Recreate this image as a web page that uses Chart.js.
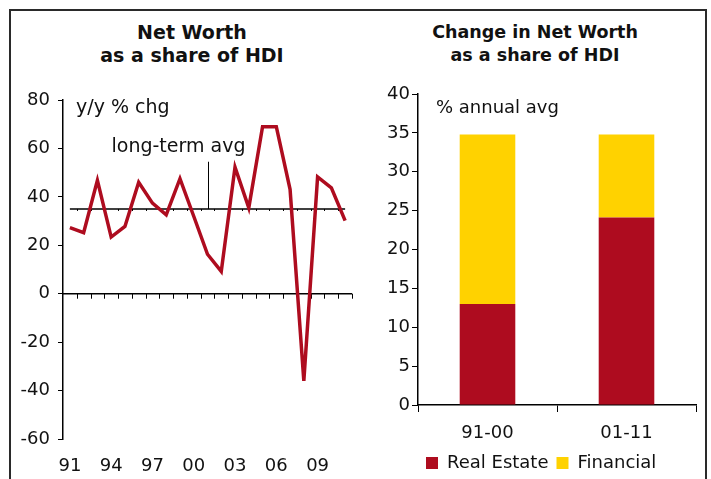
<!DOCTYPE html>
<html lang="en">

<head>
    <meta charset="UTF-8">
    <title>Net Worth as a share of HDI</title>
    <script src="https://cdn.jsdelivr.net/npm/chart.js"></script>
    <style>
        body { margin: 0; width: 711px; height: 479px; background: #fff; overflow: hidden; position: relative; font-family: "DejaVu Sans", Verdana, sans-serif; color: #111; }
        .frame { position: absolute; left: 9px; top: 9px; width: 694px; height: 500px; border: 2px solid #2a2a2a; }
        .title { position: absolute; top: 21px; width: 300px; text-align: center; font-weight: bold; line-height: 23px; }
        canvas { position: absolute; top: 0; }
    </style>
</head>

<body>
    <div class="frame"></div>
    <div class="title" style="left: 42px; font-size: 19px;">Net Worth<br>as a share of HDI</div>
    <div class="title" style="left: 385px; font-size: 17.5px;">Change in Net Worth<br>as a share of HDI</div>

    <div style="position:absolute;left:0;top:0;width:360px;height:479px;"><canvas id="leftChart"></canvas></div>
    <div style="position:absolute;left:375px;top:0;width:336px;height:479px;"><canvas id="rightChart"></canvas></div>

    <script>
        // left panel: y/y % change, 1991-2011
        const years = ['91', '92', '93', '94', '95', '96', '97', '98', '99', '00', '01',
            '02', '03', '04', '05', '06', '07', '08', '09', '10', '11'];
        const netWorthChg = [27.3, 25.2, 46.8, 23.4, 27.8, 46.0, 37.4, 32.6, 47.5, 32.0, 16.3,
            9.2, 52.3, 35.5, 69.0, 69.0, 43.1, -36.0, 48.2, 43.7, 30.2];
        const shownYears = ['91', '94', '97', '00', '03', '06', '09'];
        const longTermAvg = 35;
        const avgMarkerYear = '01';
        const avgMarkerTop = 54.5;

        // right panel: % annual avg by period
        const periods = ['91-00', '01-11'];
        const realEstate = [13.0, 24.1];
        const financial = [21.8, 10.7];

        const red = '#AE0C1F';
        const yellow = '#FFD200';
        const ink = '#111';
        const font18 = { family: 'DejaVu Sans', size: 18 };

        Chart.defaults.font.family = 'DejaVu Sans';
        Chart.defaults.color = ink;

        const leftDecor = {
            id: 'leftDecor',
            beforeDatasetsDraw(chart) {
                const { ctx, chartArea, scales: { x, y } } = chart;
                const half = (x.getPixelForValue(1) - x.getPixelForValue(0)) / 2;
                const y0 = y.getPixelForValue(0);
                const yAvg = y.getPixelForValue(longTermAvg);
                ctx.save();
                ctx.strokeStyle = '#000';
                // zero line with tick marks
                ctx.lineWidth = 1.5;
                ctx.beginPath();
                ctx.moveTo(chartArea.left, y0);
                ctx.lineTo(chartArea.right, y0);
                ctx.stroke();
                ctx.lineWidth = 1;
                ctx.beginPath();
                for (let i = 0; i < years.length; i++) {
                    const bx = Math.round(x.getPixelForValue(i) + half) + 0.5;
                    ctx.moveTo(bx, y0);
                    ctx.lineTo(bx, y0 + 5);
                }
                ctx.stroke();
                // long-term average line
                ctx.lineWidth = 1.5;
                ctx.beginPath();
                ctx.moveTo(x.getPixelForValue(0), yAvg);
                ctx.lineTo(x.getPixelForValue(years.length - 1), yAvg);
                ctx.stroke();
                ctx.lineWidth = 1;
                ctx.beginPath();
                for (let i = 0; i < years.length - 1; i++) {
                    const bx = Math.round(x.getPixelForValue(i) + half) + 0.5;
                    ctx.moveTo(bx, yAvg);
                    ctx.lineTo(bx, yAvg + 2);
                }
                const mx = Math.round(x.getPixelForValue(years.indexOf(avgMarkerYear))) + 0.5;
                ctx.moveTo(mx, yAvg);
                ctx.lineTo(mx, y.getPixelForValue(avgMarkerTop));
                ctx.stroke();
                // labels
                ctx.fillStyle = ink;
                ctx.font = '19px "DejaVu Sans"';
                ctx.textBaseline = 'alphabetic';
                ctx.textAlign = 'center';
                ctx.fillText('long-term avg', mx - 30, yAvg - 57);
                ctx.textAlign = 'left';
                ctx.fillText('y/y % chg', chartArea.left + 13, chartArea.top + 13);
                ctx.restore();
            }
        };

        new Chart(document.getElementById('leftChart'), {
            type: 'line',
            data: {
                labels: years,
                datasets: [{
                    label: 'Net worth y/y % chg',
                    data: netWorthChg,
                    borderColor: red,
                    borderWidth: 3.5,
                    pointRadius: 0,
                    tension: 0
                }]
            },
            options: {
                responsive: true,
                maintainAspectRatio: false,
                animation: false,
                layout: { padding: { top: 100, left: 0, right: 8, bottom: 0 } },
                plugins: { legend: { display: false }, tooltip: { enabled: false } },
                scales: {
                    x: {
                        offset: true,
                        grid: { display: false },
                        border: { display: false },
                        ticks: {
                            autoSkip: false,
                            maxRotation: 0,
                            padding: 9,
                            font: font18,
                            color: ink,
                            callback: function (v) {
                                const lab = this.getLabelForValue(v);
                                return shownYears.includes(lab) ? lab : '';
                            }
                        },
                        afterFit: s => { s.height = 40; }
                    },
                    y: {
                        min: -60,
                        max: 80,
                        ticks: { stepSize: 20, padding: 8, font: font18, color: ink },
                        grid: { drawOnChartArea: false, tickLength: 5, color: '#000' },
                        border: { color: '#000', width: 1.5 },
                        afterFit: s => { s.width = 63; }
                    }
                }
            },
            plugins: [leftDecor]
        });

        const rightDecor = {
            id: 'rightDecor',
            afterDraw(chart) {
                const { ctx, chartArea } = chart;
                ctx.save();
                ctx.fillStyle = ink;
                ctx.font = '18px "DejaVu Sans"';
                ctx.textAlign = 'left';
                ctx.fillText('% annual avg', chartArea.left + 18, chartArea.top + 14);
                ctx.restore();
            }
        };

        new Chart(document.getElementById('rightChart'), {
            type: 'bar',
            data: {
                labels: periods,
                datasets: [
                    { label: 'Real Estate', data: realEstate, backgroundColor: red, barPercentage: 0.4, categoryPercentage: 1 },
                    { label: 'Financial', data: financial, backgroundColor: yellow, barPercentage: 0.4, categoryPercentage: 1 }
                ]
            },
            options: {
                responsive: true,
                maintainAspectRatio: false,
                animation: false,
                layout: { padding: { top: 94, left: 0, right: 15, bottom: -3 } },
                plugins: {
                    tooltip: { enabled: false },
                    legend: {
                        position: 'bottom',
                        fullSize: false,
                        align: 'start',
                        labels: { boxWidth: 12, boxHeight: 12, padding: 8, font: font18, color: ink }
                    }
                },
                scales: {
                    x: {
                        stacked: true,
                        grid: { offset: true, drawOnChartArea: false, tickLength: 7, color: '#000' },
                        border: { color: '#000', width: 1.5 },
                        ticks: { padding: 11, font: font18, color: ink },
                        afterFit: s => { s.height = 41; }
                    },
                    y: {
                        stacked: true,
                        min: 0,
                        max: 40,
                        ticks: { stepSize: 5, padding: 2, font: font18, color: ink },
                        grid: { drawOnChartArea: false, tickLength: 6, color: '#000' },
                        border: { color: '#000', width: 1.5 },
                        afterFit: s => { s.width = 43; }
                    }
                }
            },
            plugins: [rightDecor]
        });
    </script>
</body>

</html>
